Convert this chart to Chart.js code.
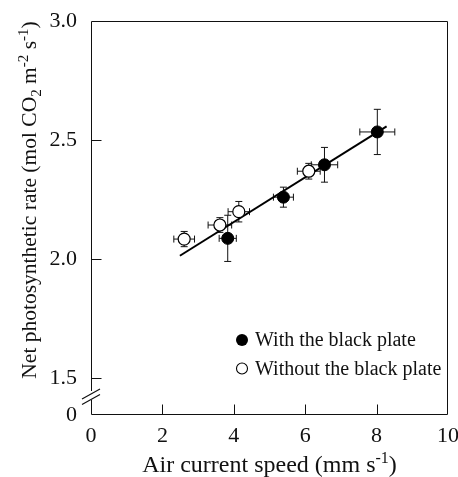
<!DOCTYPE html>
<html>
<head>
<meta charset="utf-8">
<script src="https://cdn.jsdelivr.net/npm/chart.js@4"></script>
<style>
html,body{margin:0;padding:0;background:#fff;}
#wrap{width:458px;height:477px;}
</style>
</head>
<body>
<div id="wrap"><canvas id="c" width="458" height="477"></canvas></div>
<script>
// ---- data ----
const xFilled = [3.83, 5.39, 6.54, 8.02];
const yFilled = [2.087, 2.26, 2.396, 2.534];
const xErrFilled = [0.24, 0.28, 0.37, 0.49];
const yErrFilled = [0.097, 0.042, 0.073, 0.095];

const xOpen = [2.61, 3.61, 4.14, 6.10];
const yOpen = [2.084, 2.143, 2.199, 2.369];
const xErrOpen = [0.29, 0.33, 0.30, 0.32];
const yErrOpen = [0.032, 0.031, 0.043, 0.033];

const fitX = [2.49, 8.28];
const fitY = [2.014, 2.557];

const xTicks = [0, 2, 4, 6, 8, 10];
const yTicks = [1.5, 2.0, 2.5, 3.0];
const yBreakMin = 1.345;   // axis bottom, labelled "0" (broken axis)
const yMax = 3.0;

const labelFilled = 'With the black plate';
const labelOpen = 'Without the black plate';

const FONT = '"Liberation Serif", "Times New Roman", serif';
const INK = '#111';

const toPts = (xs, ys) => xs.map((x, i) => ({x: x, y: ys[i]}));

const errorBars = {
  id: 'errorBars',
  beforeDatasetsDraw(chart) {
    const ctx = chart.ctx, xs = chart.scales.x, ys = chart.scales.y;
    const sets = [[xFilled, yFilled, xErrFilled, yErrFilled], [xOpen, yOpen, xErrOpen, yErrOpen]];
    ctx.save();
    ctx.strokeStyle = INK; ctx.lineWidth = 1;
    const cap = 3.5;
    sets.forEach(([X, Y, EX, EY]) => {
      X.forEach((x, i) => {
        const px = xs.getPixelForValue(x), py = ys.getPixelForValue(Y[i]);
        const x1 = xs.getPixelForValue(x - EX[i]), x2 = xs.getPixelForValue(x + EX[i]);
        const y1 = ys.getPixelForValue(Y[i] + EY[i]), y2 = ys.getPixelForValue(Y[i] - EY[i]);
        ctx.beginPath();
        ctx.moveTo(x1, py); ctx.lineTo(x2, py);
        ctx.moveTo(x1, py - cap); ctx.lineTo(x1, py + cap);
        ctx.moveTo(x2, py - cap); ctx.lineTo(x2, py + cap);
        ctx.moveTo(px, y1); ctx.lineTo(px, y2);
        ctx.moveTo(px - cap, y1); ctx.lineTo(px + cap, y1);
        ctx.moveTo(px - cap, y2); ctx.lineTo(px + cap, y2);
        ctx.stroke();
      });
    });
    ctx.restore();
  }
};

function measureRich(ctx, parts, size) {
  let w = 0;
  parts.forEach(([t, m]) => {
    ctx.font = (m ? Math.round(size * 0.68) : size) + 'px ' + FONT;
    w += ctx.measureText(t).width;
  });
  return w;
}
function renderRich(ctx, parts, size, x, y) {
  let cx = x;
  parts.forEach(([t, m]) => {
    const s = m ? Math.round(size * 0.68) : size;
    ctx.font = s + 'px ' + FONT;
    const dy = m === 1 ? -size * 0.38 : (m === -1 ? size * 0.22 : 0);
    ctx.fillText(t, cx, y + dy);
    cx += ctx.measureText(t).width;
  });
}

const decorations = {
  id: 'decorations',
  afterDraw(chart) {
    const ctx = chart.ctx, a = chart.chartArea, xs = chart.scales.x, ys = chart.scales.y;
    ctx.save();
    ctx.strokeStyle = INK; ctx.lineWidth = 1;
    const L = Math.round(a.left) + 0.5, R = Math.round(a.right) - 0.5;
    const T = Math.round(a.top) + 0.5, B = Math.round(a.bottom) - 0.5;
    // frame with break on left axis
    const gapTop = 391, gapBot = 400;
    ctx.beginPath();
    ctx.moveTo(L, gapTop); ctx.lineTo(L, T); ctx.lineTo(R, T); ctx.lineTo(R, B); ctx.lineTo(L, B); ctx.lineTo(L, gapBot);
    ctx.stroke();
    // break marks
    ctx.lineWidth = 1.2;
    ctx.beginPath();
    ctx.moveTo(82, 399); ctx.lineTo(100, 389);
    ctx.moveTo(82, 404.5); ctx.lineTo(100, 394.5);
    ctx.stroke();
    ctx.lineWidth = 1;
    // inward tick marks
    ctx.beginPath();
    yTicks.forEach(v => {
      if (v >= yMax) return;
      const p = Math.round(ys.getPixelForValue(v)) + 0.5;
      ctx.moveTo(L, p); ctx.lineTo(L + 10, p);
    });
    xTicks.forEach(v => {
      if (v <= 0 || v >= 10) return;
      const p = Math.round(xs.getPixelForValue(v)) + 0.5;
      ctx.moveTo(p, B); ctx.lineTo(p, B - 10);
    });
    ctx.stroke();

    // legend
    const ds0 = chart.data.datasets[0], ds1 = chart.data.datasets[1];
    ctx.textBaseline = 'middle'; ctx.textAlign = 'left';
    const lx = 242, ly1 = 340, ly2 = 368.5;
    ctx.beginPath(); ctx.arc(lx, ly1, 6, 0, Math.PI * 2);
    ctx.fillStyle = ds0.backgroundColor; ctx.fill();
    ctx.beginPath(); ctx.arc(lx, ly2, 5.5, 0, Math.PI * 2);
    ctx.fillStyle = ds1.backgroundColor; ctx.fill();
    ctx.strokeStyle = ds1.borderColor; ctx.lineWidth = 1.1; ctx.stroke();
    ctx.fillStyle = INK;
    ctx.font = '20px ' + FONT;
    ctx.fillText(ds0.label, 255, ly1 + 1);
    ctx.fillText(ds1.label, 255, ly2 + 1);

    // x title
    ctx.textBaseline = 'alphabetic';
    const xt = [['Air current speed (mm s', 0], ['-1', 1], [')', 0]];
    const wx = measureRich(ctx, xt, 24);
    renderRich(ctx, xt, 24, (a.left + a.right) / 2 - wx / 2, 472);

    // y title
    const yt = [['Net photosynthetic rate (mol CO', 0], ['2', -1], [' m', 0], ['-2', 1], [' s', 0], ['-1', 1], [')', 0]];
    const wy = measureRich(ctx, yt, 21.5);
    ctx.translate(36, 200);
    ctx.rotate(-Math.PI / 2);
    renderRich(ctx, yt, 21.5, -wy / 2, 0);
    ctx.restore();
  }
};

new Chart(document.getElementById('c'), {
  type: 'scatter',
  data: {
    datasets: [
      {
        label: labelFilled,
        data: toPts(xFilled, yFilled),
        backgroundColor: '#000', borderColor: '#000', borderWidth: 1,
        pointRadius: 6, pointHoverRadius: 6, order: 1
      },
      {
        label: labelOpen,
        data: toPts(xOpen, yOpen),
        backgroundColor: '#fff', borderColor: '#000', borderWidth: 1.2,
        pointRadius: 6, pointHoverRadius: 6, order: 2
      },
      {
        label: 'fit',
        type: 'line',
        data: toPts(fitX, fitY),
        borderColor: '#000', borderWidth: 2, pointRadius: 0, fill: false, order: 10
      }
    ]
  },
  options: {
    responsive: false,
    animation: false,
    events: [],
    layout: {padding: {left: 0, top: 21, right: 10, bottom: 0}},
    plugins: {legend: {display: false}, tooltip: {enabled: false}},
    scales: {
      x: {
        type: 'linear', min: 0, max: 10,
        grid: {display: false, drawTicks: false},
        border: {display: false},
        afterBuildTicks: s => { s.ticks = xTicks.map(v => ({value: v})); },
        afterFit: s => { s.height = 62; s.paddingLeft = 0; s.paddingRight = 0; s.paddingTop = 0; s.paddingBottom = 0; },
        ticks: {
          color: INK, padding: 8,
          font: {family: FONT, size: 22},
          callback: v => String(v)
        }
      },
      y: {
        type: 'linear', min: yBreakMin, max: yMax,
        grid: {display: false, drawTicks: false},
        border: {display: false},
        afterBuildTicks: s => { s.ticks = [{value: yBreakMin}].concat(yTicks.map(v => ({value: v}))); },
        afterFit: s => { s.width = 91; s.paddingLeft = 0; s.paddingRight = 0; s.paddingTop = 0; s.paddingBottom = 0; },
        ticks: {
          color: INK, padding: 14,
          font: {family: FONT, size: 22},
          callback: v => (Math.abs(v - yBreakMin) < 1e-6 ? '0' : Number(v).toFixed(1))
        }
      }
    }
  },
  plugins: [errorBars, decorations]
});
</script>
</body>
</html>
